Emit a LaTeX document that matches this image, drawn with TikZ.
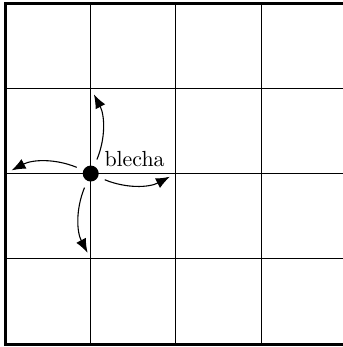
\documentclass[tikz,border=0pt]{standalone}
\usetikzlibrary{arrows.meta}
\begin{document}
\begin{tikzpicture}[x=1.5cm,y=1.5cm,
  gridline/.style={line width=0.5pt},
  border/.style={line width=1.5pt},
  fleadot/.style={circle, fill=black, inner sep=0pt, minimum size=8pt},
  jump/.style={-{Latex[length=7pt,width=5.4pt]}, line width=0.55pt, shorten <=3.5pt, shorten >=3.4pt, bend right=25}]
\useasboundingbox (-2.75pt,-1.5pt) rectangle (169pt,172.26pt);
\clip (-2.75pt,-1.5pt) rectangle (169pt,172.26pt);
\draw[gridline, step=1.5cm] (0,0) grid (4,4);
\draw[border] (0,0) rectangle (4,4);
\node[fleadot] (flea) at (1,2) {};
\coordinate (nup) at (1,3);
\coordinate (nleft) at (0,2);
\coordinate (nright) at (2,2);
\coordinate (ndown) at (1,1);
\draw[jump] (flea) to (nup);
\draw[jump] (flea) to (nleft);
\draw[jump] (flea) to (nright);
\draw[jump] (flea) to (ndown);
\node[anchor=base west, inner sep=0pt, font=\fontsize{10.95}{13.6}\selectfont] (lbl) at ([shift={(6.7pt,3.3pt)}]flea.center) {blecha};
\end{tikzpicture}
\end{document}
